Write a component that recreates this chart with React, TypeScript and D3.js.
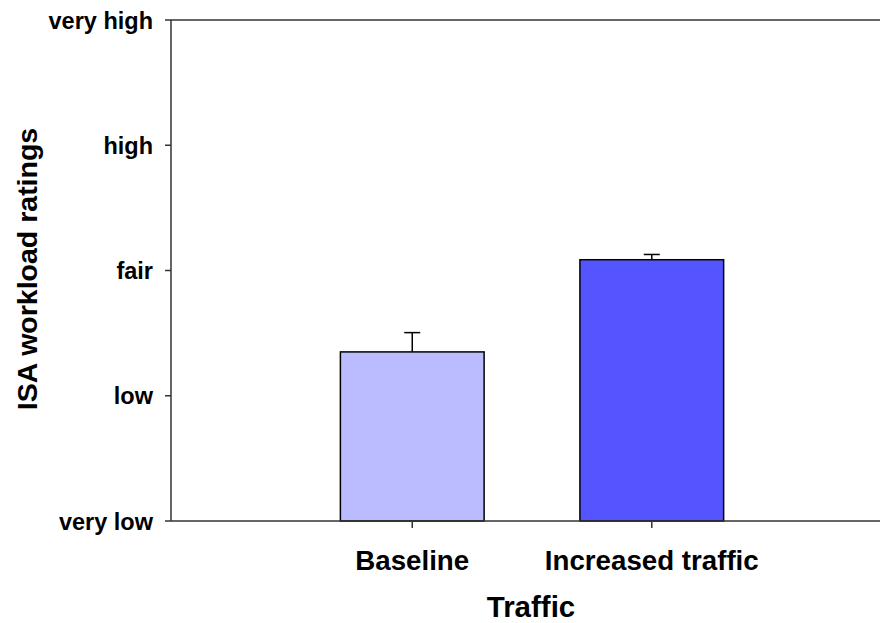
import React from "react";
import * as d3 from "d3";

const categories = ["Baseline", "Increased traffic"];
const means = [2.35, 3.086];
const errors = [0.154, 0.042];
const colors = ["#BBBBFF", "#5555FF"];
const yTickValues = [1, 2, 3, 4, 5];
const yTickLabels = ["very low", "low", "fair", "high", "very high"];

const W = 880;
const H = 623;
const left = 171;
const right = 880;
const top = 20;
const bottom = 521;
const FONT = "'Liberation Sans', Arial, Helvetica, sans-serif";

export default function App() {
  const y = d3.scaleLinear().domain([1, 5]).range([bottom, top]);
  const x = d3
    .scaleBand<string>()
    .domain(categories)
    .range([left, right])
    .paddingInner(0.4)
    .paddingOuter(0.68)
    .align(0.52);
  const bw = x.bandwidth();

  return (
    <svg
      width={W}
      height={H}
      style={{ position: "absolute", left: 0, top: 0, background: "#fff" }}
      fontFamily={FONT}
    >
      {categories.map((c, i) => (
        <g key={c}>
          <line
            x1={x(c)! + bw / 2}
            x2={x(c)! + bw / 2}
            y1={y(means[i])}
            y2={y(means[i] + errors[i])}
            stroke="#000"
            strokeWidth={1.5}
          />
          <line
            x1={x(c)! + bw / 2 - 8}
            x2={x(c)! + bw / 2 + 8}
            y1={y(means[i] + errors[i])}
            y2={y(means[i] + errors[i])}
            stroke="#000"
            strokeWidth={1.5}
          />
          <rect
            x={x(c)}
            y={y(means[i])}
            width={bw}
            height={y(1) - y(means[i])}
            fill={colors[i]}
            stroke="#000"
            strokeWidth={1.5}
          />
        </g>
      ))}
      <line x1={left} x2={right} y1={top} y2={top} stroke="#333" strokeWidth={1.5} />
      <line x1={left} x2={right} y1={bottom} y2={bottom} stroke="#333" strokeWidth={1.5} />
      <line x1={left} x2={left} y1={top} y2={bottom} stroke="#333" strokeWidth={1.5} />
      {yTickValues.map((v, i) => (
        <g key={v}>
          <line x1={left - 6} x2={left} y1={y(v)} y2={y(v)} stroke="#333" strokeWidth={1.5} />
          <text
            x={153}
            y={y(v) + 8.5}
            textAnchor="end"
            fontSize={23.5}
            fontWeight="bold"
            fill="#000"
          >
            {yTickLabels[i]}
          </text>
        </g>
      ))}
      {categories.map((c) => (
        <g key={c}>
          <line
            x1={x(c)! + bw / 2}
            x2={x(c)! + bw / 2}
            y1={bottom}
            y2={bottom + 7}
            stroke="#333"
            strokeWidth={1.5}
          />
          <text
            x={x(c)! + bw / 2}
            y={570}
            textAnchor="middle"
            fontSize={27.7}
            fontWeight="bold"
            fill="#000"
          >
            {c}
          </text>
        </g>
      ))}
      <text x={531} y={617} textAnchor="middle" fontSize={29.5} fontWeight="bold" fill="#000">
        Traffic
      </text>
      <text
        transform={`translate(37, 269) rotate(-90)`}
        textAnchor="middle"
        fontSize={28.5}
        fontWeight="bold"
        fill="#000"
      >
        ISA workload ratings
      </text>
    </svg>
  );
}
